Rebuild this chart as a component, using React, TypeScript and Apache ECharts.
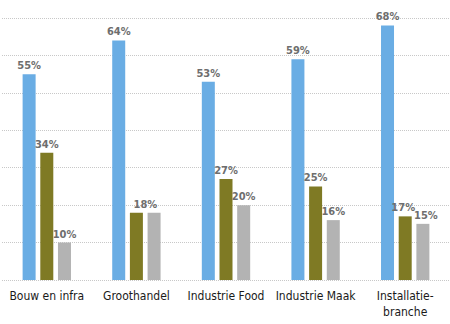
import React, { useEffect, useRef } from "react";
import * as echarts from "echarts";

const categories = ["Bouw en infra", "Groothandel", "Industrie Food", "Industrie Maak", "Installatie-\nbranche"];
const seriesA = [55, 64, 53, 59, 68];
const seriesB = [34, 18, 27, 25, 17];
const seriesC = [10, 18, 20, 16, 15];
const colors = ["#6aade4", "#7f7a24", "#b3b3b3"];

const FONT = "DejaVu Sans Condensed, Liberation Sans, sans-serif";

export default function App() {
  const ref = useRef<HTMLDivElement>(null);
  useEffect(() => {
    document.body.style.margin = "0";
    const chart = echarts.init(ref.current!, null, { renderer: "svg" });
    const label = {
      show: true,
      position: "top" as const,
      distance: 3,
      formatter: "{c}%",
      color: "#6e6e6e",
      fontWeight: "bold" as const,
      fontSize: 11,
      fontFamily: FONT,
    };
    const mk = (data: number[], i: number) => ({
      type: "bar",
      data: data.map((v, j) => {
        // Groothandel: one shared label for the equal olive/grey pair
        if (j === 1 && i === 1) return { value: v, label: { offset: [9, 0] } };
        if (j === 1 && i === 2) return { value: v, label: { show: false } };
        if (j === 4 && i === 1) return { value: v, label: { offset: [-2, 0] } };
        if (j === 4 && i === 2) return { value: v, label: { offset: [3, 0] } };
        return v;
      }),
      barWidth: 13,
      barGap: "36%",
      itemStyle: { color: colors[i] },
      label,
    });
    chart.setOption({
      animation: false,
      grid: { left: 2, right: 0, top: 18, bottom: 44 },
      xAxis: {
        type: "category",
        data: categories,
        axisLine: { show: false },
        axisTick: { show: false },
        axisLabel: {
          interval: 0,
          color: "#1a1a1a",
          fontSize: 12,
          margin: 8,
          lineHeight: 16,
          fontFamily: FONT,
        },
      },
      yAxis: {
        type: "value",
        min: 0,
        max: 70,
        interval: 10,
        axisLabel: { show: false },
        axisLine: { show: false },
        axisTick: { show: false },
        splitLine: { lineStyle: { color: "#c8c8c8", type: [1, 1], width: 1 } },
      },
      series: [mk(seriesA, 0), mk(seriesB, 1), mk(seriesC, 2)],
    });
    return () => chart.dispose();
  }, []);
  return <div ref={ref} style={{ width: 450, height: 324 }} />;
}
